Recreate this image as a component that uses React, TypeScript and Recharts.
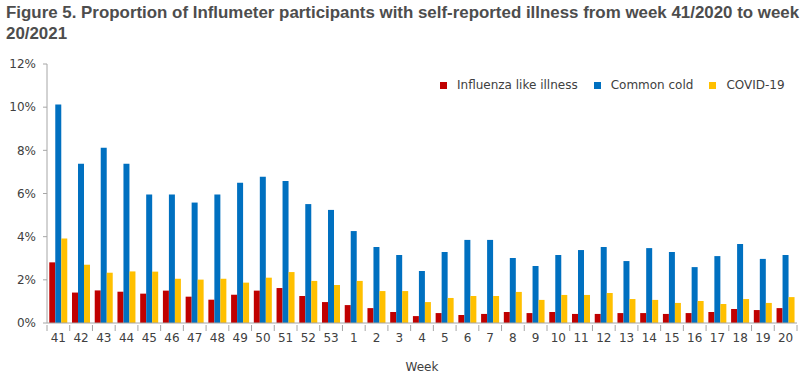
import { BarChart, Bar, XAxis, YAxis } from 'recharts'

const weeks = ['41', '42', '43', '44', '45', '46', '47', '48', '49', '50', '51', '52', '53', '1', '2', '3', '4', '5', '6', '7', '8', '9', '10', '11', '12', '13', '14', '15', '16', '17', '18', '19', '20']
const ili = [2.81, 1.41, 1.51, 1.45, 1.36, 1.5, 1.22, 1.08, 1.31, 1.5, 1.62, 1.25, 0.97, 0.83, 0.69, 0.51, 0.32, 0.46, 0.37, 0.42, 0.51, 0.46, 0.51, 0.42, 0.42, 0.46, 0.46, 0.42, 0.46, 0.51, 0.65, 0.6, 0.69]
const commonCold = [10.12, 7.38, 8.12, 7.38, 5.95, 5.95, 5.58, 5.95, 6.5, 6.78, 6.58, 5.51, 5.24, 4.26, 3.52, 3.15, 2.41, 3.29, 3.85, 3.85, 3.01, 2.64, 3.15, 3.38, 3.52, 2.87, 3.47, 3.29, 2.59, 3.1, 3.66, 2.97, 3.15]
const covid = [3.91, 2.7, 2.33, 2.39, 2.38, 2.05, 2.01, 2.05, 1.87, 2.1, 2.36, 1.95, 1.76, 1.95, 1.48, 1.48, 0.97, 1.16, 1.25, 1.25, 1.44, 1.07, 1.3, 1.3, 1.39, 1.11, 1.07, 0.93, 1.02, 0.88, 1.11, 0.93, 1.2]
const yTicks = [0, 2, 4, 6, 8, 10, 12]

const series = [
  { key: 'ili', name: 'Influenza like illness', color: '#C00000' },
  { key: 'cold', name: 'Common cold', color: '#0070C0' },
  { key: 'covid', name: 'COVID-19', color: '#FFC000' },
]

const data = weeks.map((w, i) => ({ week: w, ili: ili[i], cold: commonCold[i], covid: covid[i] }))

const FONT = '"DejaVu Sans", sans-serif'
const TEXT = '#404040'
const AXIS = '#a6a6a6'

const PLOT_LEFT = 47
const PLOT_RIGHT = 797
const band = (PLOT_RIGHT - PLOT_LEFT) / weeks.length

function WeekTick({ x, y, payload, index }: any) {
  return (
    <g>
      <line x1={x - band / 2} x2={x - band / 2} y1={y - 6} y2={y} stroke={AXIS} />
      {index === weeks.length - 1 && (
        <line x1={x + band / 2} x2={x + band / 2} y1={y - 6} y2={y} stroke={AXIS} />
      )}
      <text x={x} y={y + 11} textAnchor="middle" fontSize={12} fill={TEXT} fontFamily={FONT}>
        {payload.value}
      </text>
    </g>
  )
}

export default function App() {
  return (
    <div style={{ position: 'relative', width: 800, height: 376, background: '#fff' }}>
      <style>{'body{margin:0}'}</style>
      <div style={{ position: 'absolute', left: 6, top: 2, whiteSpace: 'nowrap', fontFamily: '"Liberation Sans", Arial, sans-serif', fontWeight: 'bold', fontSize: 16.9, lineHeight: '21px', color: '#4d4d4d' }}>
        Figure 5. Proportion of Influmeter participants with self-reported illness from week 41/2020 to week
        <br />
        20/2021
      </div>
      <div style={{ position: 'absolute', left: 440, top: 78, display: 'flex', gap: 16, fontFamily: FONT, fontSize: 12, color: TEXT }}>
        {series.map(s => (
          <div key={s.key} style={{ display: 'flex', alignItems: 'center', gap: 10 }}>
            <span style={{ width: 7, height: 7, background: s.color, display: 'inline-block' }} />
            <span>{s.name}</span>
          </div>
        ))}
      </div>
      <BarChart width={800} height={376} data={data} margin={{ top: 64, right: 3, bottom: 0, left: 0 }} barCategoryGap="10%" barGap={0}>
        <XAxis
          dataKey="week"
          height={53}
          interval={0}
          tickLine={false}
          stroke={AXIS}
          tick={<WeekTick />}
          label={{ value: 'Week', position: 'insideBottom', offset: 5, fontSize: 12, fill: TEXT, fontFamily: FONT }}
        />
        <YAxis
          width={47}
          domain={[0, 12]}
          ticks={yTicks}
          interval={0}
          tickFormatter={v => `${v}%`}
          stroke={AXIS}
          tickSize={4}
          tickMargin={7}
          tick={{ fontSize: 12, fill: TEXT, fontFamily: FONT }}
        />
        {series.map(s => (
          <Bar key={s.key} dataKey={s.key} name={s.name} fill={s.color} isAnimationActive={false} />
        ))}
      </BarChart>
    </div>
  )
}
